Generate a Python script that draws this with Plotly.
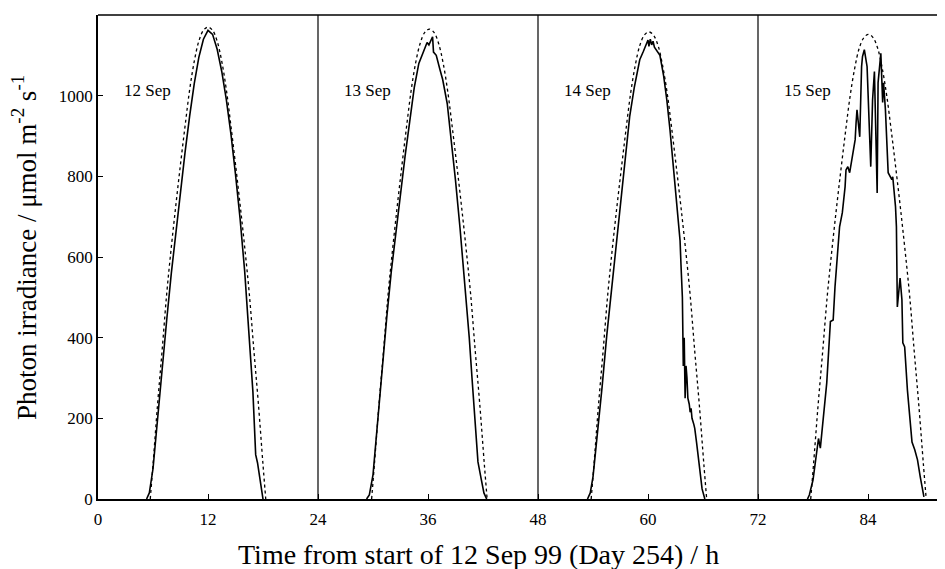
import plotly.graph_objects as go

# ---------------- data ----------------
# clear-sky (dotted) curves: hours from solar noon, noon times, values per day
clear_offset = [-6.3, -6.0, -5.5, -5.0, -4.5, -4.0, -3.5, -3.0, -2.5, -2.0, -1.5, -1.0, -0.5, 0.0,
                0.5, 1.0, 1.5, 2.0, 2.5, 3.0, 3.5, 4.0, 4.5, 5.0, 5.5, 6.0, 6.3]
clear_noon = [12.0, 36.15, 60.1, 84.05]
clear_d1 = [0, 85, 235, 370, 510, 625, 730, 830, 925, 1015, 1085, 1135, 1162, 1170,
            1162, 1135, 1085, 1015, 925, 830, 730, 625, 510, 370, 235, 85, 0]
clear_d2 = [0, 85, 234, 368, 508, 622, 727, 826, 921, 1011, 1081, 1130, 1157, 1165,
            1157, 1130, 1081, 1011, 921, 826, 727, 622, 508, 368, 234, 85, 0]
clear_d3 = [0, 84, 233, 366, 505, 619, 723, 821, 916, 1005, 1074, 1124, 1150, 1158,
            1150, 1124, 1074, 1005, 916, 821, 723, 619, 505, 366, 233, 84, 0]
clear_d4 = [0, 84, 231, 364, 502, 615, 719, 817, 911, 999, 1068, 1118, 1144, 1152,
            1144, 1118, 1068, 999, 911, 817, 719, 615, 502, 364, 231, 84, 0]

# measured photon irradiance (solid)
meas_h1 = [5.3, 5.6, 6.0, 6.5, 7.0, 7.5, 8.0, 8.5, 9.0, 9.5, 10.0, 10.5, 11.0, 11.5, 12.0, 12.5,
           13.0, 13.5, 14.0, 14.5, 15.0, 15.5, 16.0, 16.5, 16.9, 17.2, 17.4, 17.7, 18.0]
meas_v1 = [0, 15, 75, 205, 325, 445, 560, 665, 765, 860, 950, 1030, 1095, 1140, 1162, 1152,
           1115, 1060, 990, 905, 805, 695, 565, 405, 265, 110, 90, 45, 0]

meas_h2 = [29.3, 29.6, 30.0, 30.5, 31.0, 31.5, 32.0, 32.5, 33.0, 33.5, 34.0, 34.5, 35.0, 35.4,
           35.7, 35.9, 36.1, 36.3, 36.5, 36.6, 36.9, 37.3, 37.6, 38.1, 38.5, 39.0, 39.5, 40.0,
           40.5, 40.8, 41.2, 41.45, 41.8, 42.1, 42.4]
meas_v2 = [0, 10, 60, 190, 330, 450, 565, 665, 750, 850, 935, 1020, 1080, 1105,
           1122, 1132, 1126, 1138, 1146, 1108, 1100, 1065, 1040, 980, 900, 790, 670, 540,
           400, 300, 170, 92, 50, 15, 0]

meas_h3 = [53.4, 53.7, 54.0, 54.5, 55.0, 55.5, 56.0, 56.5, 57.0, 57.5, 58.0, 58.5, 59.1, 59.5,
           59.8, 60.0, 60.1, 60.25, 60.4, 60.55, 60.7, 61.0, 61.3, 61.7, 62.05, 62.4, 62.7,
           63.0, 63.25, 63.45, 63.5, 63.6, 63.75, 63.85, 63.95, 64.05, 64.15, 64.25, 64.35,
           64.5, 64.6, 64.7, 64.8, 65.0, 65.1, 65.3, 65.6, 65.9, 66.2]
meas_v3 = [0, 15, 55, 160, 280, 405, 515, 615, 735, 850, 948, 1020, 1089, 1110,
           1125, 1138, 1122, 1140, 1126, 1135, 1120, 1110, 1100, 1050, 990, 915, 841,
           770, 700, 660, 640, 580, 500, 330, 400, 250, 330, 300, 250,
           235, 215, 225, 200, 185, 175, 140, 75, 25, 0]

meas_h4 = [77.4, 77.6, 78.0, 78.4, 78.6, 78.8, 79.1, 79.5, 79.9, 80.2, 80.4, 80.7, 80.9, 81.2,
           81.5, 81.6, 81.8, 82.0, 82.3, 82.6, 82.7, 82.8, 83.1, 83.2, 83.3, 83.4, 83.6, 83.9,
           84.0, 84.1, 84.3, 84.5, 84.7, 85.0, 85.1, 85.4, 85.6, 85.7, 85.9, 86.2, 86.6, 86.7,
           87.0, 87.1, 87.15, 87.2, 87.5, 87.7, 87.8, 88.0, 88.3, 88.8, 89.1, 89.4, 89.7, 90.1]
meas_v4 = [0, 10, 47, 122, 150, 126, 189, 288, 440, 444, 526, 618, 675, 710,
           774, 816, 824, 809, 849, 891, 933, 965, 898, 990, 1072, 1097, 1114, 1072,
           998, 916, 824, 990, 1060, 759, 1032, 1105, 983, 1032, 965, 809, 792, 799,
           725, 675, 618, 476, 548, 494, 387, 377, 270, 141, 122, 97, 55, 5]

day_bounds = [24, 48, 72]
day_labels = ["12 Sep", "13 Sep", "14 Sep", "15 Sep"]
day_starts = [0, 24, 48, 72]
x_ticks = [0, 12, 24, 36, 48, 60, 72, 84]
y_ticks = [0, 200, 400, 600, 800, 1000, 1200]

# ---------------- build ----------------
FONT = "Liberation Serif, Times New Roman, Times, DejaVu Serif, serif"

cx, cy = [], []
for noon, vals in zip(clear_noon, [clear_d1, clear_d2, clear_d3, clear_d4]):
    cx += [noon + o for o in clear_offset] + [None]
    cy += vals + [None]

mx, my = [], []
for hh, vv in [(meas_h1, meas_v1), (meas_h2, meas_v2), (meas_h3, meas_v3), (meas_h4, meas_v4)]:
    mx += hh + [None]
    my += vv + [None]

fig = go.Figure()
fig.add_trace(go.Scatter(x=cx, y=cy, mode="lines",
                         line=dict(color="black", width=1.3, dash="dot", shape="spline"),
                         showlegend=False, connectgaps=False))
fig.add_trace(go.Scatter(x=mx, y=my, mode="lines",
                         line=dict(color="black", width=1.6),
                         showlegend=False, connectgaps=False))

shapes = [dict(type="line", xref="paper", yref="paper", x0=0, x1=1, y0=1, y1=1,
               line=dict(color="black", width=1.5))]
for b in day_bounds:
    shapes.append(dict(type="line", xref="x", yref="y", x0=b, x1=b, y0=0, y1=1200,
                       line=dict(color="black", width=1.2)))

annotations = []
for s, lab in zip(day_starts, day_labels):
    annotations.append(dict(x=s + 2.6, y=1012, xref="x", yref="y", text=lab, showarrow=False,
                            xanchor="left", yanchor="middle",
                            font=dict(family=FONT, size=17, color="black")))
annotations.append(dict(x=0.4487, y=-0.1157, xref="paper", yref="paper",
                        text="Time from start of 12 Sep 99 (Day 254) / h", showarrow=False,
                        xanchor="center", yanchor="middle",
                        font=dict(family=FONT, size=28, color="black")))
annotations.append(dict(x=-0.0865, y=0.52, xref="paper", yref="paper",
                        text="Photon irradiance / μmol m<sup>-2</sup> s<sup>-1</sup>",
                        showarrow=False, textangle=-90, xanchor="center", yanchor="middle",
                        font=dict(family=FONT, size=27, color="black")))

# the page body adds an 8 px offset; the figure is sized so it fits the window
fig.update_layout(
    width=937, height=561,
    margin=dict(l=90, r=0, t=7, b=70),
    paper_bgcolor="white", plot_bgcolor="white",
    shapes=shapes, annotations=annotations,
    font=dict(family=FONT, color="black"),
    xaxis=dict(range=[0, 92.4], tickvals=x_ticks, ticktext=[str(t) for t in x_ticks],
               ticks="inside", ticklen=5, tickwidth=1.2, tickcolor="black",
               showline=True, linecolor="black", linewidth=1.5,
               showgrid=False, zeroline=False, ticklabelstandoff=4,
               tickfont=dict(family=FONT, size=17, color="black")),
    yaxis=dict(range=[0, 1200], tickvals=y_ticks, ticktext=[str(t) for t in y_ticks],
               ticks="inside", ticklen=5, tickwidth=1.2, tickcolor="black",
               showline=True, linecolor="black", linewidth=1.5,
               showgrid=False, zeroline=False,
               tickfont=dict(family=FONT, size=17, color="black")),
)

fig.write_html("out.html")
